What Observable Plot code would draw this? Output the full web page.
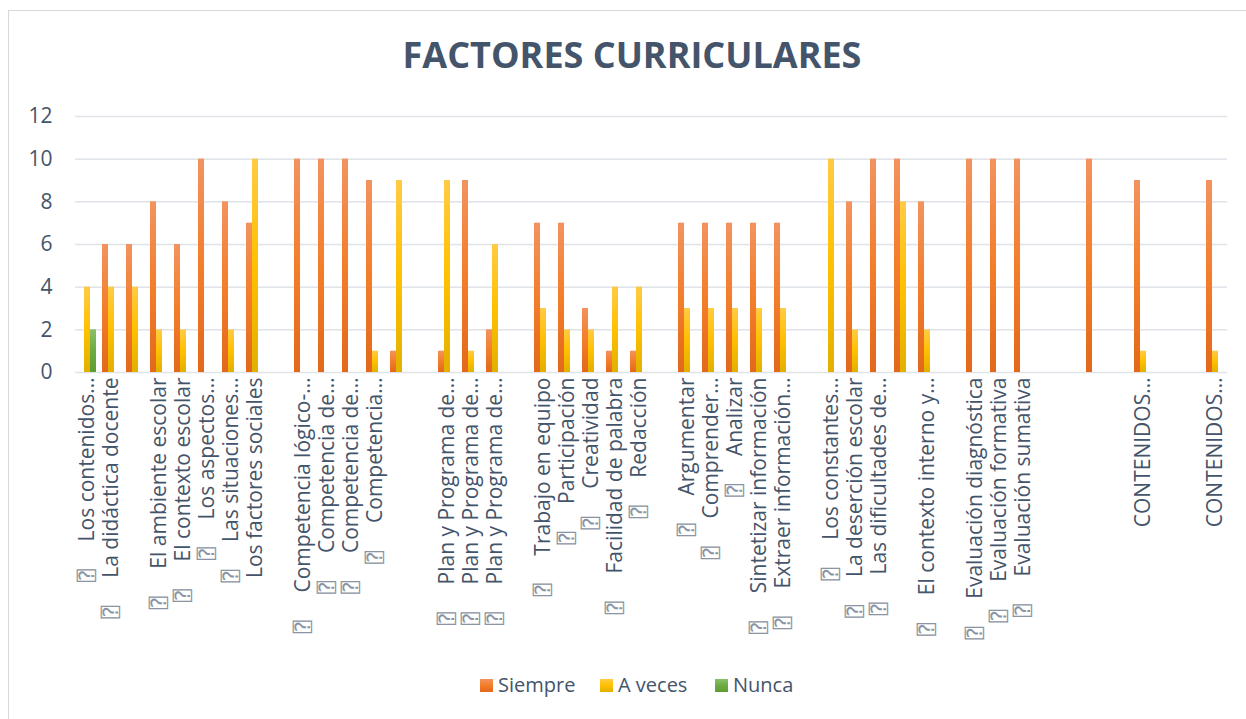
<!DOCTYPE html>
<html>
<head>
<meta charset="utf-8">
<script src="https://cdn.jsdelivr.net/npm/d3@7"></script>
<script src="https://cdn.jsdelivr.net/npm/@observablehq/plot@0.6"></script>
<style>
  body { margin: 0; background: #fff; font-family: "Open Sans", sans-serif; }
  #wrap { position: relative; width: 1246px; height: 719px; overflow: hidden; background: #fff; }
  #border { position: absolute; left: 8px; top: 10px; width: 1270px; height: 740px; border: 1px solid #d9d9d9; box-sizing: border-box; pointer-events: none; }
  #title { position: absolute; left: 0; width: 1264px; top: 37px; text-align: center; font: bold 36px/36px "Open Sans", sans-serif; color: #44546A; }
  #chart { position: absolute; left: 0; top: 0; }
  .leg { position: absolute; top: 675px; font: 20px/20px "Open Sans", sans-serif; color: #44546A; white-space: nowrap; }
  .sw { position: absolute; top: 4px; left: 0; width: 13px; height: 13px; }
  .lt { position: absolute; left: 18px; top: 0; }
</style>
</head>
<body>
<div id="wrap">
  <div id="chart"></div>
  <div id="title">FACTORES CURRICULARES</div>
  <div id="legend"></div>
  <div id="border"></div>
</div>
<script>
// ---- data ----
const ICON = "\u2370";            // unrendered bullet glyph shown as a "?" box
const B = ICON + "\u2003\u2004";  // bullet + tab gap
const labels = [
  B + "Los contenidos…", B + "La didáctica docente", "", B + "El ambiente escolar", B + "El contexto escolar",
  B + "Los aspectos…", B + "Las situaciones…", "Los factores sociales", "",
  B + "Competencia lógico-…", B + "Competencia de…", B + "Competencia de…", B + "Competencia…", "", "",
  B + "Plan y Programa de…", B + "Plan y Programa de…", B + "Plan y Programa de…", "",
  B + "Trabajo en equipo", B + "Participación", B + "Creatividad", B + "Facilidad de palabra", B + "Redacción", "",
  B + "Argumentar", B + "Comprender…", B + "Analizar", B + "Sintetizar información", B + "Extraer información…", "",
  B + "Los constantes…", B + "La deserción escolar", B + "Las dificultades de…", "", B + "El contexto interno y…", "",
  B + "Evaluación diagnóstica", B + "Evaluación formativa", B + "Evaluación sumativa", "", "", "", "",
  "CONTENIDOS…", "", "", "CONTENIDOS…"
];
const series = ["Siempre", "A veces", "Nunca"];
const siempre = [0,6,6,8,6,10,8,7,0, 10,10,10,9,1,0, 1,9,2,0, 7,7,3,1,1,0, 7,7,7,7,7,0, 0,8,10,10,8,0, 10,10,10,0,0,10,0, 9,0,0,9];
const aVeces  = [4,4,4,2,2,0,2,10,0, 0,0,0,1,9,0, 9,1,6,0, 3,2,2,4,4,0, 3,3,3,3,3,0, 10,2,0,8,2,0, 0,0,0,0,0,0,0, 1,0,0,1];
const nunca   = [2,0,0,0,0,0,0,0,0, 0,0,0,0,0,0, 0,0,0,0, 0,0,0,0,0,0, 0,0,0,0,0,0, 0,0,0,0,0,0, 0,0,0,0,0,0,0, 0,0,0,0];
const yTicks = [0, 2, 4, 6, 8, 10, 12];

// ---- table ----
const rows = [];
labels.forEach((_, i) => {
  [siempre, aVeces, nunca].forEach((arr, k) => rows.push({ i, s: series[k], v: arr[i] }));
});

const chart = Plot.plot({
  width: 1246,
  height: 719,
  marginLeft: 73,
  marginRight: 18,
  marginTop: 116,
  marginBottom: 347,
  style: { fontFamily: "'Open Sans', sans-serif", fontSize: "21px", color: "#44546A", background: "transparent", overflow: "visible" },
  fx: { domain: d3.range(labels.length), padding: 0, axis: "bottom", tickRotate: -90, tickSize: 0, tickPadding: 5, tickFormat: i => labels[i], label: null },
  x: { domain: series, paddingInner: 0, paddingOuter: 0.4, axis: null },
  y: { domain: [0, 12], ticks: 6, tickSize: 0, tickPadding: 23, label: null },
  color: { type: "ordinal", domain: series, range: ["url(#gS)", "url(#gA)", "url(#gN)"] },
  marks: [
    Plot.ruleY(yTicks, { stroke: "#dfe3e8", strokeWidth: 1.5 }),
    Plot.barY(rows, { fx: "i", x: "s", y: "v", fill: "s" })
  ]
});

// gradients (Excel-style shading per bar)
const grads = [
  ["gS", ["#F2935F", "#F47D2A", "#E3681B"]],
  ["gA", ["#FFCB45", "#FFC000", "#E2B000"]],
  ["gN", ["#8AC066", "#6DAC43", "#5E9D33"]]
];
const defs = d3.select(chart).insert("defs", ":first-child");
grads.forEach(([id, stops]) => {
  const g = defs.append("linearGradient").attr("id", id).attr("x1", 0).attr("y1", 0).attr("x2", 0).attr("y2", 1);
  stops.forEach((c, j) => g.append("stop").attr("offset", j / (stops.length - 1)).attr("stop-color", c));
});

// colour the unrendered bullet glyph grey
d3.select(chart).selectAll("text").each(function () {
  const t = this.textContent;
  if (t.startsWith(ICON)) {
    this.textContent = "";
    const sel = d3.select(this);
    sel.append("tspan").attr("fill", "#8a94a3").attr("font-family", "'DejaVu Sans Mono', monospace").text(t.slice(0, 1));
    sel.append("tspan").text(t.slice(1));
  }
});

document.getElementById("chart").appendChild(chart);

// legend
const legPos = [480, 600, 715];
const legend = document.getElementById("legend");
series.forEach((s, k) => {
  const item = document.createElement("div");
  item.className = "leg";
  item.style.left = legPos[k] + "px";
  const st = grads[k][1];
  item.innerHTML = `<span class="sw" style="background:linear-gradient(${st[0]},${st[1]},${st[2]})"></span><span class="lt">${s}</span>`;
  legend.appendChild(item);
});
</script>
</body>
</html>
